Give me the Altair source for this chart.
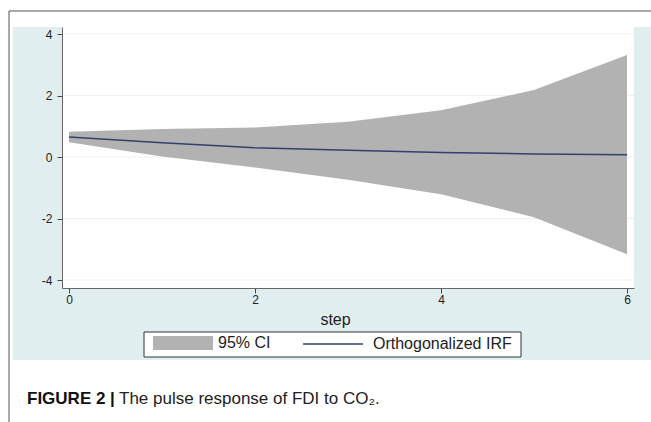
import altair as alt
import pandas as pd

# ---- data ----
steps = [0, 1, 2, 3, 4, 5, 6]
irf = [0.65, 0.46, 0.30, 0.22, 0.15, 0.10, 0.07]
ci_upper = [0.82, 0.91, 0.96, 1.15, 1.52, 2.18, 3.32]
ci_lower = [0.48, 0.02, -0.34, -0.74, -1.21, -1.96, -3.16]
y_ticks = [-4, -2, 0, 2, 4]
x_ticks = [0, 2, 4, 6]
ci_name = "95% CI"
irf_name = "Orthogonalized IRF"
ci_color = "#b2b2b2"
irf_color = "#33406e"

W, H = 572, 261
FONT = "Liberation Sans"

df = pd.DataFrame({"step": steps, "irf": irf, "upper": ci_upper, "lower": ci_lower})
df["ci_series"] = ci_name
df["irf_series"] = irf_name
grid_df = pd.DataFrame({"y": y_ticks})
one = pd.DataFrame({"k": [0]})

xscale = alt.Scale(domain=[-0.0753, 6.0753], nice=False, zero=False)
yscale = alt.Scale(domain=[-4.26, 4.228], nice=False, zero=False)

# ---- decorations (graph region, frame, legend box) ----
graph_region = alt.Chart(one).mark_rect(color="#e1eeef").encode(
    x=alt.value(-49), x2=alt.value(589), y=alt.value(0), y2=alt.value(333))
plot_region = alt.Chart(one).mark_rect(color="white").encode(
    x=alt.value(0), x2=alt.value(W), y=alt.value(0), y2=alt.value(H))
frame_top = alt.Chart(one).mark_rule(color="#555555", strokeWidth=1).encode(
    x=alt.value(-53), x2=alt.value(589), y=alt.value(-16))
frame_left = alt.Chart(one).mark_rule(color="#555555", strokeWidth=1).encode(
    x=alt.value(-53), y=alt.value(-16), y2=alt.value(395))
legend_box = alt.Chart(one).mark_rect(fill="white", stroke="#333333", strokeWidth=1).encode(
    x=alt.value(82), x2=alt.value(459), y=alt.value(305), y2=alt.value(330))

grid = alt.Chart(grid_df).mark_rule(color="#e8f1f3", strokeWidth=1).encode(
    y=alt.Y("y:Q", scale=yscale))

band = alt.Chart(df).mark_area(opacity=1).encode(
    x=alt.X("step:Q", scale=xscale,
            axis=alt.Axis(values=x_ticks, title="step", grid=False, tickSize=5,
                          labelFontSize=12, labelFont=FONT, labelColor="#222",
                          labelPadding=1, tickColor="#444", domainColor="#666",
                          titleFont=FONT, titleFontSize=16, titleFontWeight="normal",
                          titleColor="#222", titleX=273, titleY=36,
                          titleBaseline="alphabetic", labelExpr="'' + datum.value",
                          zindex=1)),
    y=alt.Y("lower:Q", scale=yscale,
            axis=alt.Axis(values=y_ticks, title=None, grid=False, tickSize=5,
                          labelFontSize=12, labelFont=FONT, labelColor="#222",
                          labelPadding=5, tickColor="#444", domainColor="#666",
                          labelExpr="'' + datum.value", zindex=1)),
    y2="upper:Q",
    fill=alt.Fill("ci_series:N", scale=alt.Scale(domain=[ci_name], range=[ci_color]),
                  legend=alt.Legend(title=None, orient="none", legendX=91, legendY=286,
                                    labelFont=FONT, labelFontSize=16, labelColor="#222",
                                    symbolType="M-1,-0.233H1V0.233H-1Z", symbolSize=3600,
                                    symbolStrokeWidth=0, symbolOpacity=1,
                                    labelOffset=5, padding=0)),
)

line = alt.Chart(df).mark_line(strokeWidth=1.5).encode(
    x=alt.X("step:Q", scale=xscale),
    y=alt.Y("irf:Q", scale=yscale),
    stroke=alt.Stroke("irf_series:N", scale=alt.Scale(domain=[irf_name], range=[irf_color]),
                      legend=alt.Legend(title=None, orient="none", legendX=240, legendY=286,
                                        labelFont=FONT, labelFontSize=16, labelColor="#222",
                                        symbolType="stroke", symbolSize=3600,
                                        symbolStrokeWidth=1.3, symbolOpacity=1,
                                        labelOffset=9, padding=0)),
)

cap_bold = alt.Chart(one).mark_text(
    text="FIGURE 2 |", font=FONT, fontSize=17, fontWeight="bold", align="left",
    baseline="alphabetic", color="#111").encode(x=alt.value(-35), y=alt.value(377))
cap_text = alt.Chart(one).mark_text(
    text="The pulse response of FDI to CO₂.", font=FONT, fontSize=17, align="left",
    baseline="alphabetic", color="#222").encode(x=alt.value(57), y=alt.value(377))

chart = alt.layer(
    graph_region, plot_region, frame_top, frame_left, legend_box, grid, band, line,
    cap_bold, cap_text
).resolve_scale(fill="independent", stroke="independent").properties(
    width=W, height=H,
    padding={"left": 62, "top": 27, "right": 17, "bottom": 134},
    autosize=alt.AutoSizeParams(type="none"),
    background="white",
).configure_view(stroke=None, fill=None)

chart.save("out.html", embed_options={"renderer": "svg", "actions": False})
